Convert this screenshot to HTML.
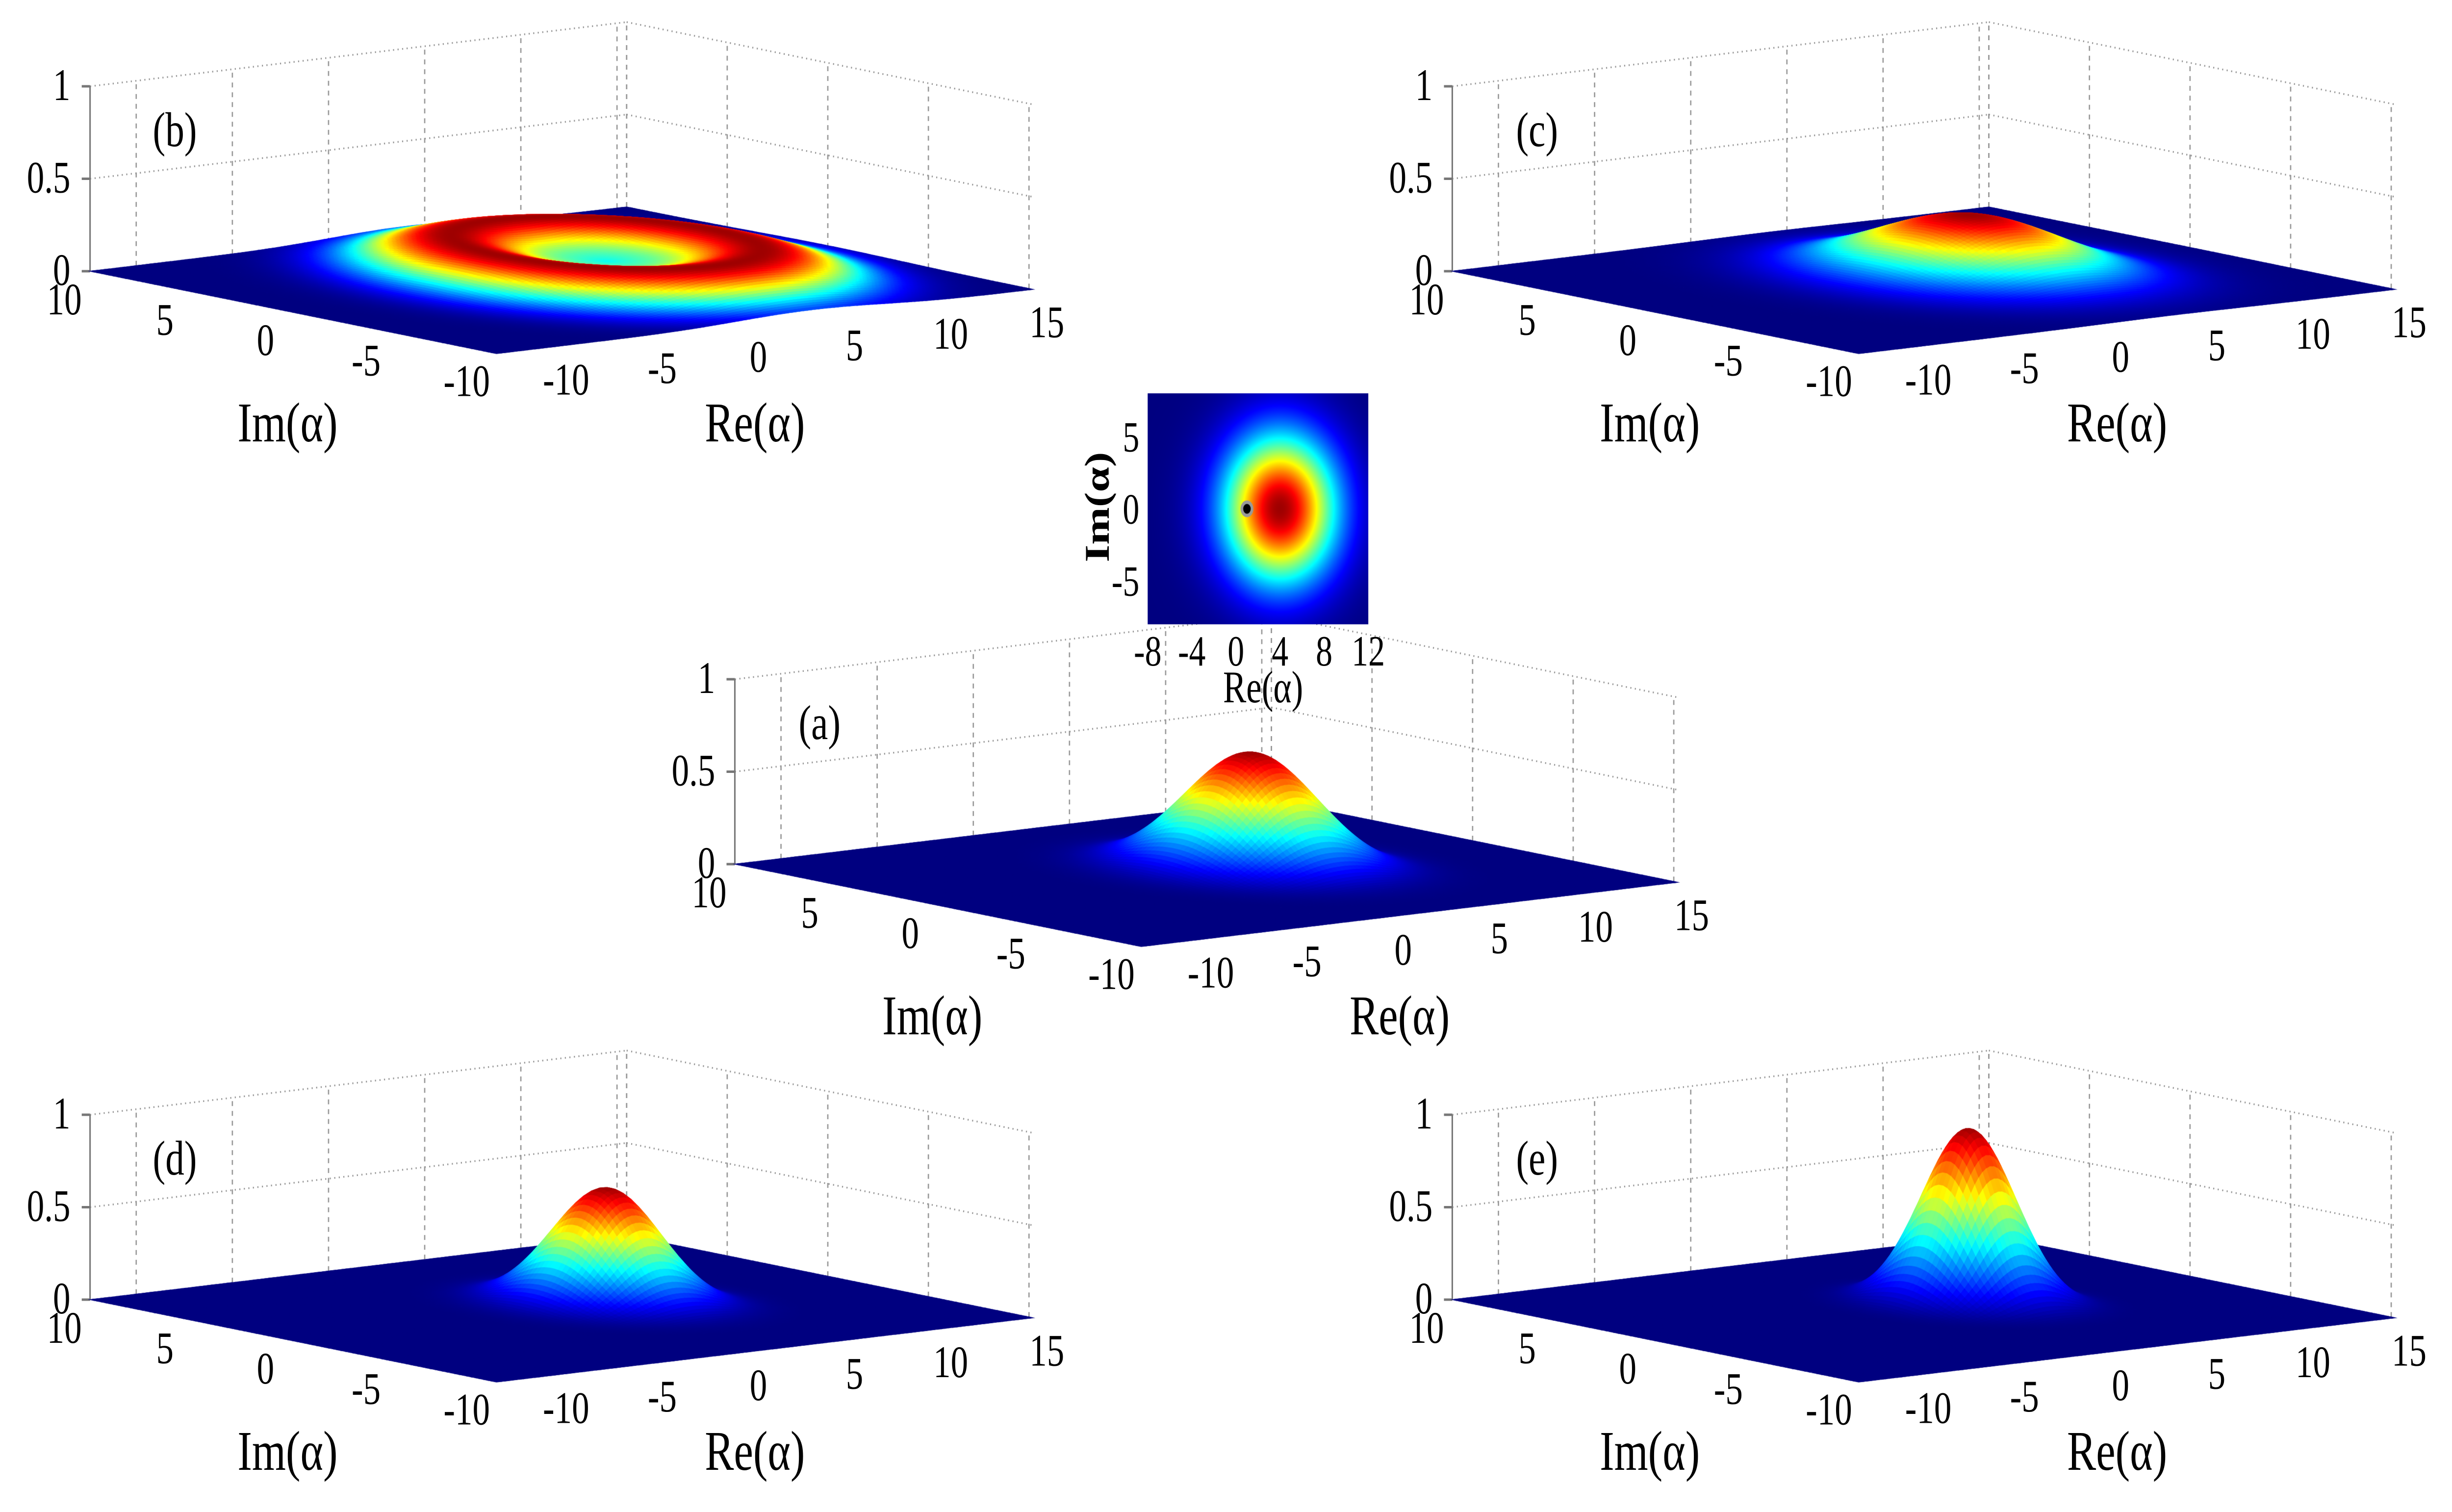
<!DOCTYPE html>
<html><head><meta charset="utf-8"><style>
html,body{margin:0;padding:0;background:#fff;overflow:hidden;}
#wrap{position:absolute;left:0;top:0;width:6480px;height:3083px;overflow:hidden;background:#fff;transform-origin:0 0;}
#wrap svg,#wrap canvas{position:absolute;left:0;top:0;}
text{font-family:"Liberation Serif",serif;fill:#000;}
</style></head><body>
<div id="wrap">
<svg id="grid" width="6480" height="3083"></svg>
<canvas id="cv" width="6480" height="3083"></canvas>
<svg id="labels" width="6480" height="3083"></svg>
</div>
<script>
// ---- data ----
const panelLabels = ['(a)','(b)','(c)','(d)','(e)'];
const peakHeights = [0.62, 0.17, 0.32, 0.62, 0.94];
const peakWidths = [3.4, 3.6, 5.0, 2.8, 2.4];
const ringRadii = [0, 5.6, 0, 0, 0];
const coreFractions = [0, 0.3, 0, 0, 0];
const centerRe = [4, 4, 4, 4, 4];
const centerIm = [0, 0, 0, 0, 0];
const zTicks = [0, 0.5, 1];
const zTickLabels = ['0', '0.5', '1'];
const reTicks = [-10, -5, 0, 5, 10, 15];
const imTicks = [10, 5, 0, -5, -10];
const insetCenterRe = 4;
const insetCenterIm = 0;
const insetWidth = 5;
const insetDot = [1, 0];
const insetReTicks = [-8, -4, 0, 4, 8, 12];
const insetImTicks = [5, 0, -5];

// ---- fit to viewport ----
function fit(){
  const w=document.documentElement.clientWidth||window.innerWidth||6480;
  const h=document.documentElement.clientHeight||window.innerHeight||3083;
  document.getElementById('wrap').style.transform='scale('+(w/6480)+','+(h/3083)+')';
}
fit();
window.addEventListener('resize',fit);

// ---- layout ----
const offsets = [[1704,1209],[0,0],[3600,0],[0,2097],[3600,2097]];
const RE0=-12.4, RE1=15.5, IM0=-10.2, IM1=10;
const NS='http://www.w3.org/2000/svg';
const grid=document.getElementById('grid');
const labels=document.getElementById('labels');
function P(o,re,im,z){
  const a=(re-RE0)/(RE1-RE0), b=(IM1-im)/(IM1-IM0);
  return [o[0]+238+a*1418+b*1074, o[1]+553-a*131+b*168-z*377];
}
function jet(v){
  v=Math.max(0,Math.min(1,v));
  const c=x=>Math.round(255*Math.max(0,Math.min(1,x)));
  return [c(1.5-Math.abs(4*v-3)), c(1.5-Math.abs(4*v-2)), c(1.5-Math.abs(4*v-1))];
}
function shape(k,re,im){
  const r=Math.hypot(re-centerRe[k], im-centerIm[k]);
  if(ringRadii[k]>0){
    return Math.exp(-Math.pow(r-ringRadii[k],2)/(peakWidths[k]*peakWidths[k])) + coreFractions[k]*Math.exp(-r*r/6);
  }
  return Math.exp(-r*r/(peakWidths[k]*peakWidths[k]));
}
function line(parent,p,q,stroke,w,dash,name){
  const l=document.createElementNS(NS,'line');
  l.setAttribute('x1',p[0]);l.setAttribute('y1',p[1]);l.setAttribute('x2',q[0]);l.setAttribute('y2',q[1]);
  l.setAttribute('stroke',stroke);l.setAttribute('stroke-width',w);
  if(dash) l.setAttribute('stroke-dasharray',dash);
  
  
  parent.appendChild(l);
}
function txt(x,y,s,size,anchor,name,extra){
  const t=document.createElementNS(NS,'text');
  t.setAttribute('x',x);t.setAttribute('y',y);t.setAttribute('font-size',size);
  t.setAttribute('text-anchor',anchor);
  if(extra) t.setAttribute('transform',extra);
  t.textContent=s;
  
  
  labels.appendChild(t);
  return t;
}

const cv=document.getElementById('cv');
const ctx=cv.getContext('2d');

for(let k=0;k<5;k++){
  const o=offsets[k];
  for(const re of reTicks) line(grid,P(o,re,IM1,0),P(o,re,IM1,1),'#9a9a9a',3.5,'10,10','grid-vertical-re');
  for(const im of imTicks) line(grid,P(o,RE1,im,0),P(o,RE1,im,1),'#9a9a9a',3.5,'10,10','grid-vertical-im');
  line(grid,P(o,RE1,IM1,0),P(o,RE1,IM1,1),'#9a9a9a',3.5,'10,10','grid-back-corner');
  for(const z of [0.5,1]){
    line(grid,P(o,RE0,IM1,z),P(o,RE1,IM1,z),'#9a9a9a',3.5,'3,9','grid-horizontal-left');
    line(grid,P(o,RE1,IM1,z),P(o,RE1,IM0,z),'#9a9a9a',3.5,'3,9','grid-horizontal-right');
  }
  line(grid,P(o,RE0,IM1,0),P(o,RE0,IM1,1),'#777',4,null,'z-axis');
  zTicks.forEach((z,i)=>{
    const p=P(o,RE0,IM1,z);
    line(grid,[p[0]-22,p[1]],p,'#777',5,null,'z-tick');
    txt(p[0]-52,p[1]+28,zTickLabels[i],92,'end','z-tick-label');
  });
  imTicks.forEach(im=>{
    const p=P(o,RE0,im,0);
    txt(p[0]-68,p[1]+88,String(im),92,'middle','im-tick-label');
  });
  reTicks.forEach(re=>{
    const p=P(o,re,IM0,0);
    txt(p[0]+62,p[1]+95,String(re),92,'middle','re-tick-label');
  });
  txt(o[0]+760,o[1]+900,'Im(α)',115,'middle','im-axis-title');
  txt(o[0]+1995,o[1]+900,'Re(α)',115,'middle','re-axis-title');
  txt(o[0]+462,o[1]+298,panelLabels[k],100,'middle','panel-label');

  const nR=140,nI=100;
  let mx=0;
  const Z=[];
  for(let i=0;i<=nR;i++){Z[i]=[];for(let j=0;j<=nI;j++){
    const re=RE0+(RE1-RE0)*i/nR, im=IM0+(IM1-IM0)*j/nI;
    const f=shape(k,re,im); Z[i][j]=f; if(f>mx) mx=f;}}
  const quads=[];
  for(let i=0;i<nR;i++)for(let j=0;j<nI;j++){
    const a=(i+0.5)/nR, b=1-(j+0.5)/nI;
    quads.push([-a*131+b*168,i,j]);
  }
  quads.sort((p,q)=>p[0]-q[0]);
  for(const [d,i,j] of quads){
    const re0=RE0+(RE1-RE0)*i/nR, re1=RE0+(RE1-RE0)*(i+1)/nR;
    const im0=IM0+(IM1-IM0)*j/nI, im1=IM0+(IM1-IM0)*(j+1)/nI;
    const h=peakHeights[k]/mx;
    const p1=P(o,re0,im0,Z[i][j]*h),p2=P(o,re1,im0,Z[i+1][j]*h),p3=P(o,re1,im1,Z[i+1][j+1]*h),p4=P(o,re0,im1,Z[i][j+1]*h);
    const v=(Z[i][j]+Z[i+1][j]+Z[i+1][j+1]+Z[i][j+1])/(4*mx);
    const c=jet(v*0.97);
    const col='rgb('+c[0]+','+c[1]+','+c[2]+')';
    ctx.fillStyle=col;ctx.strokeStyle=col;ctx.lineWidth=1.5;
    ctx.beginPath();ctx.moveTo(p1[0],p1[1]);ctx.lineTo(p2[0],p2[1]);ctx.lineTo(p3[0],p3[1]);ctx.lineTo(p4[0],p4[1]);ctx.closePath();
    ctx.fill();ctx.stroke();
  }
}

// ---- inset heatmap ----
const IX0=3033,IX1=3616,IY0=802,IY1=1273;
const iRe0=-8,iRe1=12,iIm0=-8,iIm1=8;
const ix=re=>IX0+(re-iRe0)/(iRe1-iRe0)*(IX1-IX0);
const iy=im=>IY1-(im-iIm0)/(iIm1-iIm0)*(IY1-IY0);
const W=IX1-IX0,H=IY1-IY0;
const img=ctx.createImageData(W,H);
for(let y=0;y<H;y++)for(let x=0;x<W;x++){
  const re=iRe0+(x+0.5)/W*(iRe1-iRe0), im=iIm1-(y+0.5)/H*(iIm1-iIm0);
  const r2=(re-insetCenterRe)**2+(im-insetCenterIm)**2;
  const c=jet(Math.exp(-r2/(insetWidth*insetWidth))*0.97);
  const idx=(y*W+x)*4;img.data[idx]=c[0];img.data[idx+1]=c[1];img.data[idx+2]=c[2];img.data[idx+3]=255;
}
ctx.putImageData(img,IX0,IY0);
ctx.fillStyle='#999';ctx.beginPath();ctx.arc(ix(insetDot[0]),iy(insetDot[1]),17,0,Math.PI*2);ctx.fill();
ctx.fillStyle='#000';ctx.beginPath();ctx.arc(ix(insetDot[0]),iy(insetDot[1]),10,0,Math.PI*2);ctx.fill();

insetReTicks.forEach(re=>txt(ix(re),IY1+84,String(re),88,'middle','inset-x-tick-label'));
insetImTicks.forEach(im=>txt(IX0-22,iy(im)+30,String(im),88,'end','inset-y-tick-label'));
txt(3338,1432,'Re(α)',92,'middle','inset-x-title');
const yl=txt(2930,1034,'Im(α)',92,'middle','inset-y-title','rotate(-90 2930 1034)');
yl.setAttribute('font-weight','bold');
</script>
</body></html>
